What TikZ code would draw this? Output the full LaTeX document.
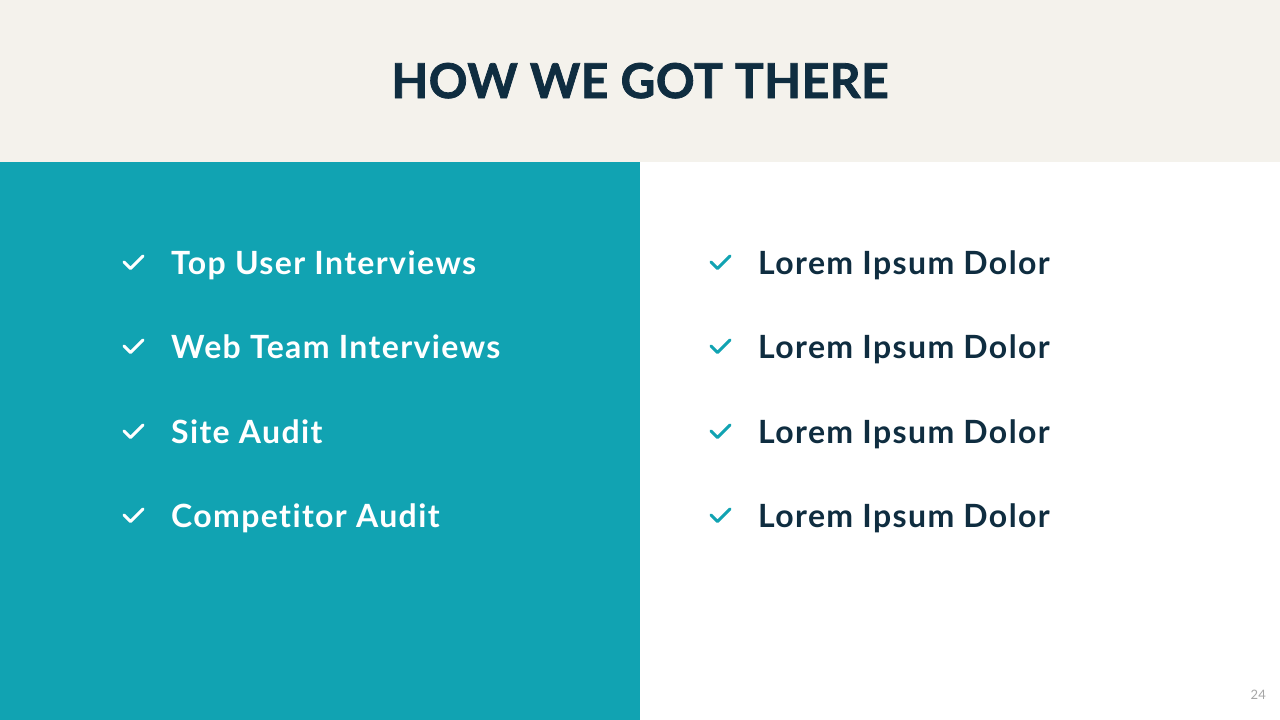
\documentclass[tikz,border=0pt]{standalone}
\usepackage{fontspec}
\setmainfont[Ligatures=NoCommon,RawFeature={-liga;-dlig}]{Lato}
\newfontfamily\titlefont[Ligatures=NoCommon,RawFeature={-liga},FakeBold=1.6,LetterSpace=1]{Lato Bold}
\newfontfamily\itemfont[Ligatures=NoCommon,RawFeature={-liga;-dlig},LetterSpace=4.3]{Lato Bold}
\definecolor{beige}{HTML}{F4F2EC}
\definecolor{teal}{HTML}{11A3B2}
\definecolor{navy}{HTML}{0F2D40}
\definecolor{pagegray}{HTML}{A6A6A6}
\begin{document}
\begin{tikzpicture}[x=1pt,y=-1pt,
  itemtext/.style={anchor=base west,inner sep=0pt,font=\fontsize{32}{38}\itemfont},
  tick/.style={line width=3pt,line cap=round,line join=round}]
\useasboundingbox (0,0) rectangle (1280,720);
\fill[white] (0,0) rectangle (1280,720);
\fill[beige] (0,0) rectangle (1280,162);
\fill[teal] (0,162) rectangle (640,720);
\node[anchor=base,inner sep=0pt,text=navy,font=\fontsize{48}{56}\titlefont] (title) at (640,98) {HOW WE GOT THERE};
\foreach \y/\t [count=\i] in {274/Top User Interviews,358/Web Team Interviews,443/Site Audit,527/Competitor Audit}{
  \draw[tick,white] (124,\y-12) -- (130.5,\y-5.5) -- (143,\y-18);
  \node[itemtext,text=white] (l\i) at (171,\y) {\t};
}
\foreach \y [count=\i] in {274,358,443,527}{
  \draw[tick,teal] (711,\y-12) -- (717.5,\y-5.5) -- (730,\y-18);
  \node[itemtext,text=navy] (r\i) at (758,\y) {Lorem Ipsum Dolor};
}
\node[anchor=base east,inner sep=0pt,text=pagegray,font=\fontsize{13}{15}\selectfont] (page) at (1266,699) {24};
\end{tikzpicture}
\end{document}
